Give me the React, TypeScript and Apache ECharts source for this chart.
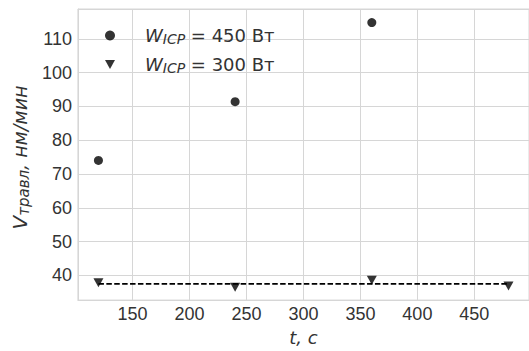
import React, { useEffect, useRef } from 'react';
import * as echarts from 'echarts';

// Etch time, s
const time450 = [120, 240, 360];
const time300 = [120, 240, 360, 480];
// Etch rate, nm/min
const rate450 = [74.0, 91.4, 114.8];
const rate300 = [37.8, 36.5, 38.6, 36.9];
// Average rate level for the 300 W series
const level300 = 37.5;
const levelSpan = [120, 480];
// ICP power for each series, W
const powers = ['450', '300'];

const TICK_FONT = '"Liberation Sans", Arial, sans-serif';
const LABEL_FONT = '"DejaVu Sans", sans-serif';
const TEXT = '#333333';
const GRID = '#d6d6d6';
const TRIANGLE_DOWN = 'path://M0,0L10,0L5,9Z';

const seriesName = (p: string) => `W_ICP = ${p} Вт`;

export default function App() {
  const ref = useRef<HTMLDivElement>(null);

  useEffect(() => {
    if (!ref.current) return;
    const chart = echarts.init(ref.current, undefined, { renderer: 'svg' });

    const name450 = seriesName(powers[0]);
    const name300 = seriesName(powers[1]);

    const italic = (size: number, extra: object = {}) => ({
      fontSize: size,
      fontStyle: 'italic',
      fontFamily: LABEL_FONT,
      color: TEXT,
      ...extra,
    });

    chart.setOption({
      animation: false,
      backgroundColor: '#ffffff',
      textStyle: { fontFamily: TICK_FONT, color: TEXT },
      grid: {
        left: 74,
        top: 9,
        width: 457,
        height: 298,
        show: true,
        borderColor: GRID,
        borderWidth: 1,
        containLabel: false,
      },
      legend: {
        orient: 'vertical',
        left: 100,
        top: 20,
        itemWidth: 10,
        itemHeight: 10,
        itemGap: 8,
        data: [
          { name: name450, icon: 'circle' },
          { name: name300, icon: TRIANGLE_DOWN },
        ],
        formatter: (name: string) => {
          const p = name.replace(/^W_ICP = /, '').replace(/ Вт$/, '');
          return `{w|W}{sub|ICP}{n| = ${p} Вт}`;
        },
        textStyle: {
          fontFamily: LABEL_FONT,
          color: TEXT,
          rich: {
            w: italic(18, { lineHeight: 24, padding: [0, 0, 0, 25] }),
            sub: italic(14, { lineHeight: 24, padding: [7, 0, 0, 0] }),
            n: { fontSize: 18, fontFamily: LABEL_FONT, color: TEXT, lineHeight: 24 },
          },
        },
      },
      xAxis: {
        type: 'value',
        min: 102,
        max: 498,
        splitNumber: 8,
        name: '{it|t, c}',
        nameLocation: 'middle',
        nameGap: 27,
        nameTextStyle: { rich: { it: italic(18) } },
        axisLine: { show: true, lineStyle: { color: GRID, width: 1 } },
        axisTick: { show: false },
        axisLabel: { fontSize: 18, fontFamily: TICK_FONT, color: TEXT, margin: 5, showMinLabel: false, showMaxLabel: false },
        splitLine: { show: true, lineStyle: { color: GRID, width: 1 } },
      },
      yAxis: {
        type: 'value',
        min: 32.7,
        max: 118.8,
        splitNumber: 8,
        name: '{v|V}{sub|травл}{it|, нм/мин}',
        nameLocation: 'middle',
        nameRotate: 90,
        nameGap: 44,
        nameTextStyle: {
          rich: {
            v: italic(20, { lineHeight: 26 }),
            sub: italic(15, { lineHeight: 26, padding: [8, 0, 0, 0] }),
            it: italic(19, { lineHeight: 26, padding: [0, 6, 0, 0] }),
          },
        },
        axisLine: { show: true, lineStyle: { color: GRID, width: 1 } },
        axisTick: { show: false },
        axisLabel: { fontSize: 18, fontFamily: TICK_FONT, color: TEXT, margin: 6, showMinLabel: false, showMaxLabel: false },
        splitLine: { show: true, lineStyle: { color: GRID, width: 1 } },
      },
      series: [
        {
          name: 'level',
          type: 'line',
          data: levelSpan.map((t) => [t, level300]),
          symbol: 'none',
          lineStyle: { color: '#000000', width: 1.6, type: [5.5, 2.4] },
          z: 2,
        },
        {
          name: name450,
          type: 'scatter',
          data: time450.map((t, i) => [t, rate450[i]]),
          symbol: 'circle',
          symbolSize: 9,
          itemStyle: { color: '#000000' },
          z: 3,
        },
        {
          name: name300,
          type: 'scatter',
          data: time300.map((t, i) => [t, rate300[i]]),
          symbol: TRIANGLE_DOWN,
          symbolSize: [10, 9],
          itemStyle: { color: '#000000' },
          z: 3,
        },
      ],
    });

    return () => chart.dispose();
  }, []);

  return (
    <div
      ref={ref}
      style={{ position: 'fixed', left: 0, top: 0, width: 529, height: 351, background: '#ffffff' }}
    />
  );
}
